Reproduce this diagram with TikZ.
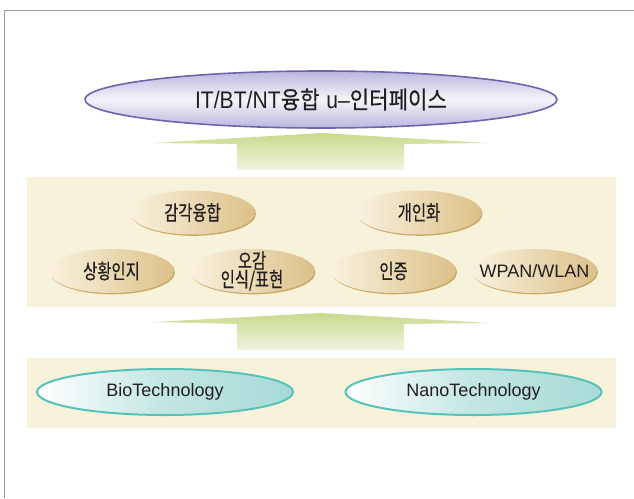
\documentclass[tikz,border=0pt]{standalone}
\usepackage{fontspec}
\setmainfont{Liberation Sans}
\newfontfamily\krT[FakeStretch=0.88,FakeBold=0.4]{Noto Sans CJK KR}
\newfontfamily\krB[FakeStretch=0.75,FakeBold=0.5]{Noto Sans CJK KR}
\newfontfamily\latT[FakeStretch=0.88]{Liberation Sans}
\usetikzlibrary{shapes.geometric,shadows}
\definecolor{framegray}{HTML}{9A9A9A}
\definecolor{bandbg}{HTML}{F7F2DA}
\definecolor{lav}{HTML}{BAB6DE}
\definecolor{lavlight}{HTML}{F5F4FB}
\definecolor{lavline}{HTML}{6C65AB}
\definecolor{arrtop}{HTML}{C9DA8E}
\definecolor{arrbot}{HTML}{EFF4DF}
\definecolor{beigeL}{HTML}{F9F2DF}
\definecolor{beigeR}{HTML}{DCC088}
\definecolor{beigeS}{HTML}{C9A766}
\definecolor{tealL}{HTML}{FFFFFF}
\definecolor{tealR}{HTML}{A8DBD6}
\definecolor{tealline}{HTML}{57C2BA}
\definecolor{ink}{HTML}{231F20}
\tikzset{
  topell/.style={ellipse, draw=lavline, line width=1.6pt, top color=lav, bottom color=lav, middle color=lavlight, minimum width=472pt, minimum height=57pt, inner sep=0pt},
  beigeell/.style={ellipse, left color=beigeL, right color=beigeR, minimum width=125pt, minimum height=44pt, inner sep=0pt,
     drop shadow={shadow xshift=1pt, shadow yshift=-1.3pt, fill=beigeS, opacity=1}},
  tealell/.style={ellipse, draw=tealline, line width=2pt, left color=tealL, right color=tealR, middle color=tealR!70!white, minimum width=256pt, minimum height=46pt, inner sep=0pt},
  lbl/.style={text=ink, inner sep=0pt, align=center, font=\fontsize{18}{20}\selectfont},
  band/.style={fill=bandbg},
  bigarrow/.style={top color=arrtop, bottom color=arrbot}
}
\newcommand{\kb}[1]{{\fontsize{20.5}{20}\selectfont\krB #1}}
\begin{document}
\begin{tikzpicture}[x=1pt,y=-1pt]
\useasboundingbox (0,0) rectangle (634,498);
% frame
\draw[framegray, line width=1pt] (4.5,498) -- (4.5,10) -- (634,10);
% bands
\fill[band] (27,177) rectangle (616,307);
\fill[band] (27,358) rectangle (616,428);
% arrows
\shade[bigarrow] (322,133) -- (488,143) -- (404,144) -- (404,170) -- (237,170) -- (237,144) -- (153,143) -- cycle;
\shade[bigarrow] (321,313) -- (489,323) -- (404,324) -- (404,350) -- (237,350) -- (237,324) -- (153,322) -- cycle;
% top ellipse
\node[topell] (top) at (321,99.5) {};
\node[text=ink, inner sep=0pt, font=\fontsize{24}{26}\selectfont] (toptxt) at (top.center)
  {{\latT IT/BT/NT}{\krT 융합} {\latT u–}{\krT 인터페이스}};
% beige ellipses
\node[beigeell] (b1) at (192.5,212.5) {};
\node[lbl] (b1t) at (b1.center) {\kb{감각융합}};
\node[beigeell] (b2) at (419,212.5) {};
\node[lbl] (b2t) at (b2.center) {\kb{개인화}};
\node[beigeell] (b3) at (111.5,271) {};
\node[lbl] (b3t) at (b3.center) {\kb{상황인지}};
\node[beigeell] (b4) at (252,271) {};
\node[lbl] (b4t) at (b4.center) {\kb{오감}\\[-1.5pt]\kb{인식/표현}};
\node[beigeell] (b5) at (393.5,271) {};
\node[lbl] (b5t) at (b5.center) {\kb{인증}};
\node[beigeell] (b6) at (534.5,271) {};
\node[lbl] (b6t) at (b6.center) {WPAN/WLAN};
% teal ellipses
\node[tealell] (bio) at (165,392) {};
\node[lbl] (biot) at (bio.center) {BioTechnology};
\node[tealell] (nano) at (473.5,392) {};
\node[lbl] (nanot) at (nano.center) {NanoTechnology};
\end{tikzpicture}
\end{document}
